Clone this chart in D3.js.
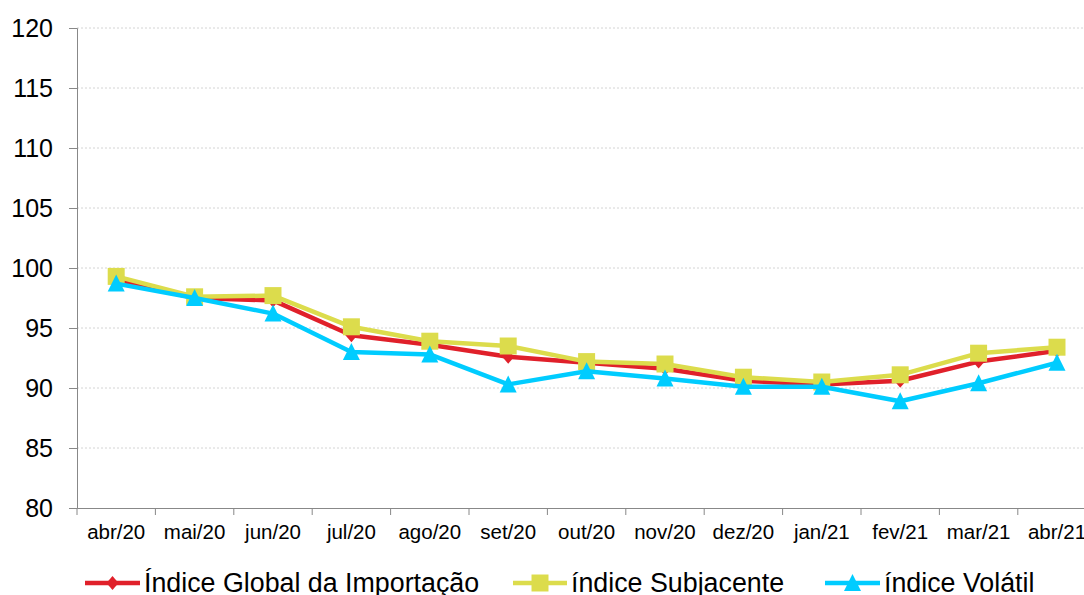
<!DOCTYPE html>
<html>
<head>
<meta charset="utf-8">
<script src="https://cdn.jsdelivr.net/npm/d3@7"></script>
<style>
  body { margin: 0; background: #fff; }
  svg { display: block; font-family: "Liberation Sans", Arial, sans-serif; }
</style>
</head>
<body>
<svg id="chart"></svg>
<script>
const months = ["abr/20", "mai/20", "jun/20", "jul/20", "ago/20", "set/20", "out/20",
  "nov/20", "dez/20", "jan/21", "fev/21", "mar/21", "abr/21"];
const globalIdx = [99.0, 97.5, 97.3, 94.4, 93.6, 92.6, 92.1, 91.6, 90.6, 90.3, 90.6, 92.2, 93.1];
const subjIdx = [99.3, 97.6, 97.7, 95.1, 93.9, 93.5, 92.2, 92.0, 90.9, 90.5, 91.1, 92.9, 93.4];
const volIdx = [98.7, 97.5, 96.2, 93.0, 92.8, 90.3, 91.4, 90.8, 90.1, 90.1, 88.9, 90.4, 92.1];
const yTicks = [80, 85, 90, 95, 100, 105, 110, 115, 120];
const seriesNames = ["Índice Global da Importação", "índice Subjacente", "índice Volátil"];

const width = 1084;
const height = 595;
const plotLeft = 77, plotTop = 28, plotBottom = 508;
const step = 78.4;

const svg = d3.select("#chart").attr("width", width).attr("height", height);

const x = d3.scaleBand().domain(months).range([plotLeft, plotLeft + step * months.length]);
const y = d3.scaleLinear().domain([80, 120]).range([plotBottom, plotTop]);

// grid
svg.append("g")
  .selectAll("line")
  .data(yTicks.filter(d => d > 80))
  .join("line")
  .attr("x1", plotLeft).attr("x2", width)
  .attr("y1", d => y(d)).attr("y2", d => y(d))
  .attr("stroke", "#d4d4d4")
  .attr("stroke-dasharray", "2,2");

// y axis
const yAxis = svg.append("g")
  .attr("transform", `translate(${plotLeft},0)`)
  .call(d3.axisLeft(y).tickValues(yTicks).tickSize(8).tickPadding(16));
yAxis.select(".domain").attr("stroke", "#888");
yAxis.selectAll(".tick line").attr("stroke", "#888");
yAxis.selectAll("text").attr("font-size", 25).attr("fill", "#000")
  .attr("font-family", "Liberation Sans, Arial, sans-serif");

// x axis
const xAxis = svg.append("g")
  .attr("transform", `translate(0,${plotBottom})`)
  .call(d3.axisBottom(x).tickSize(0).tickPadding(16).tickSizeOuter(0));
xAxis.select(".domain").attr("stroke", "#888");
xAxis.selectAll("text").attr("font-size", 20.5).attr("fill", "#000")
  .attr("font-family", "Liberation Sans, Arial, sans-serif");
xAxis.selectAll("line.bound")
  .data(months.map(m => x(m)).concat([x(months[months.length - 1]) + x.bandwidth()]))
  .join("line")
  .attr("class", "bound")
  .attr("x1", d => d).attr("x2", d => d)
  .attr("y1", 0).attr("y2", 7)
  .attr("stroke", "#888");

const cx = m => x(m) + x.bandwidth() / 2;

const diamond = "M0,-7L6,0L0,7L-6,0Z";
const square = "M-8.5,-8.5H8.5V8.5H-8.5Z";
const triangle = "M0,-9L8.5,8L-8.5,8Z";

const series = [
  { name: seriesNames[0], values: globalIdx, color: "#e0202a", shape: diamond },
  { name: seriesNames[1], values: subjIdx, color: "#dcdc4c", shape: square },
  { name: seriesNames[2], values: volIdx, color: "#00ccff", shape: triangle }
];

const line = d3.line().x((d, i) => cx(months[i])).y(d => y(d));

series.forEach(s => {
  const g = svg.append("g");
  g.append("path")
    .attr("d", line(s.values))
    .attr("fill", "none")
    .attr("stroke", s.color)
    .attr("stroke-width", 4.5)
    .attr("stroke-linejoin", "round");
  g.selectAll("path.mark")
    .data(s.values)
    .join("path")
    .attr("class", "mark")
    .attr("d", s.shape)
    .attr("transform", (d, i) => `translate(${cx(months[i])},${y(d)})`)
    .attr("fill", s.color);
});

// legend
const legendPos = [
  { x1: 85, x2: 140, tx: 144 },
  { x1: 513, x2: 567, tx: 571 },
  { x1: 825, x2: 880, tx: 884 }
];
const ly = 583;
series.forEach((s, i) => {
  const p = legendPos[i];
  const g = svg.append("g");
  g.append("line")
    .attr("x1", p.x1).attr("x2", p.x2)
    .attr("y1", ly).attr("y2", ly)
    .attr("stroke", s.color).attr("stroke-width", 4.5);
  g.append("path")
    .attr("d", s.shape)
    .attr("transform", `translate(${(p.x1 + p.x2) / 2},${ly})`)
    .attr("fill", s.color);
  g.append("text")
    .attr("x", p.tx).attr("y", 592)
    .attr("font-size", 26.8)
    .attr("fill", "#000")
    .text(s.name);
});
</script>
</body>
</html>
